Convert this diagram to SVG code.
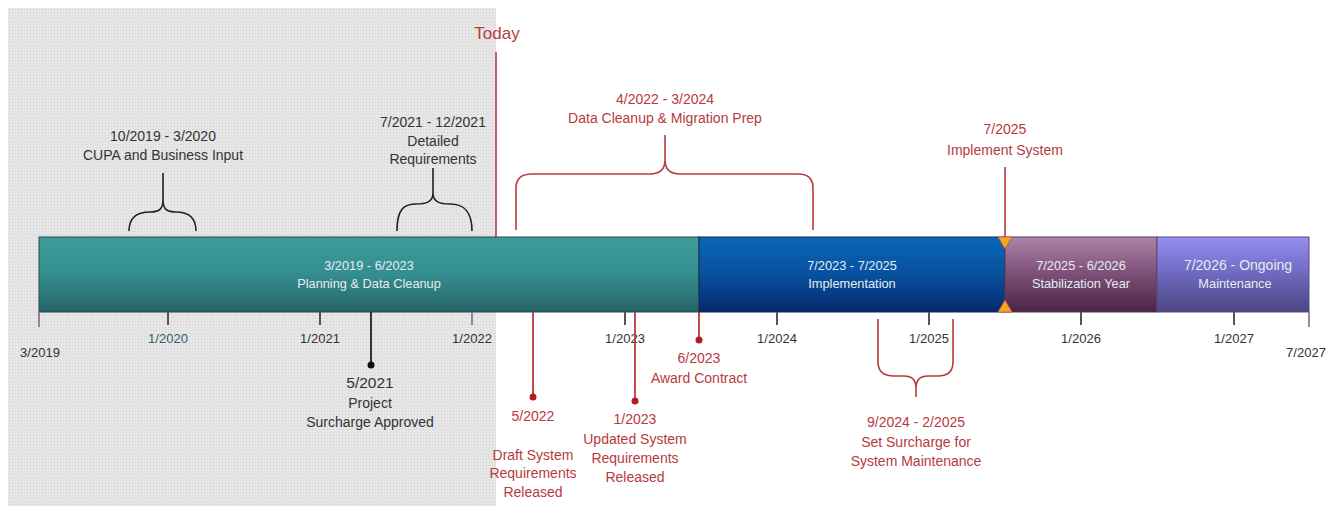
<svg xmlns="http://www.w3.org/2000/svg" width="1341" height="506" viewBox="0 0 1341 506">
  <defs>
    <pattern id="dots" width="3" height="3" patternUnits="userSpaceOnUse">
      <rect width="3" height="3" fill="#e6e6e6"/>
      <rect width="1" height="1" fill="#d2d2d2"/>
    </pattern>
    <linearGradient id="gTeal" x1="0" y1="0" x2="0" y2="1">
      <stop offset="0" stop-color="#3b9b9c"/>
      <stop offset="0.5" stop-color="#348e8f"/>
      <stop offset="1" stop-color="#256466"/>
    </linearGradient>
    <linearGradient id="gBlue" x1="0" y1="0" x2="0" y2="1">
      <stop offset="0" stop-color="#0a66b6"/>
      <stop offset="0.5" stop-color="#07519f"/>
      <stop offset="1" stop-color="#032a6c"/>
    </linearGradient>
    <linearGradient id="gMauve" x1="0" y1="0" x2="0" y2="1">
      <stop offset="0" stop-color="#ae84a8"/>
      <stop offset="0.5" stop-color="#7c4f76"/>
      <stop offset="1" stop-color="#4a2444"/>
    </linearGradient>
    <linearGradient id="gPurple" x1="0" y1="0" x2="0" y2="1">
      <stop offset="0" stop-color="#9590f2"/>
      <stop offset="0.5" stop-color="#6e68bf"/>
      <stop offset="1" stop-color="#4c467f"/>
    </linearGradient>
    <style>
      text { font-family: "Liberation Sans", Arial, sans-serif; font-size: 14px; text-anchor: middle; }
      .dark { fill: #333333; }
      .red { fill: #b83a3e; }
      .bar { fill: #e6ecf2; font-size: 12.8px; }
      .axis { fill: #333333; font-size: 13px; }
      .tick { stroke: #555555; stroke-width: 2; }
      .redline { stroke: #b83a3e; stroke-width: 1.6; fill: none; }
      .darkline { stroke: #222222; stroke-width: 1.6; fill: none; }
      .reddot { fill: #b01e24; }
    </style>
  </defs>

  <rect x="0" y="0" width="1341" height="506" fill="#ffffff"/>
  <!-- past period shading -->
  <rect id="past" x="8" y="8" width="488" height="498" fill="url(#dots)"/>

  <!-- today marker -->
  <g id="today">
    <line x1="496" y1="52" x2="496" y2="237" stroke="#b83a3e" stroke-width="1.6"/>
    <text x="497" y="39" class="red" style="font-size:17px">Today</text>
  </g>

  <!-- phase bar -->
  <g id="phase-planning">
    <rect x="39" y="237" width="660" height="75" fill="url(#gTeal)" stroke="#2a4a4a" stroke-width="1"/>
    <text x="369" y="270" class="bar">3/2019 - 6/2023</text>
    <text x="369" y="288" class="bar">Planning &amp; Data Cleanup</text>
  </g>
  <g id="phase-implementation">
    <rect x="699" y="237" width="306" height="75" fill="url(#gBlue)" stroke="#1a2a4a" stroke-width="1"/>
    <text x="852" y="270" class="bar">7/2023 - 7/2025</text>
    <text x="852" y="288" class="bar">Implementation</text>
  </g>
  <g id="phase-stabilization">
    <rect x="1005" y="237" width="152" height="75" fill="url(#gMauve)" stroke="#5a3a55" stroke-width="1"/>
    <text x="1081" y="270" class="bar">7/2025 - 6/2026</text>
    <text x="1081" y="288" class="bar">Stabilization Year</text>
  </g>
  <g id="phase-maintenance">
    <rect x="1157" y="237" width="152" height="75" fill="url(#gPurple)" stroke="#5a4a7a" stroke-width="1"/>
    <text x="1238" y="270" class="bar" style="font-size:14px">7/2026 - Ongoing</text>
    <text x="1235" y="288" class="bar">Maintenance</text>
  </g>

  <!-- axis ticks and labels -->
  <g id="axis">
    <line x1="39" y1="312" x2="39" y2="327" stroke="#8a5a84" stroke-width="1.5"/>
    <line x1="168" y1="312" x2="168" y2="325" class="tick"/>
    <line x1="320" y1="312" x2="320" y2="325" class="tick"/>
    <line x1="472" y1="312" x2="472" y2="325" stroke="#8a5a84" stroke-width="1.5"/>
    <line x1="625" y1="312" x2="625" y2="325" class="tick"/>
    <line x1="777" y1="312" x2="777" y2="325" class="tick"/>
    <line x1="929" y1="312" x2="929" y2="325" class="tick"/>
    <line x1="1081" y1="312" x2="1081" y2="325" class="tick"/>
    <line x1="1234" y1="312" x2="1234" y2="325" class="tick"/>
    <line x1="1309" y1="312" x2="1309" y2="327" stroke="#8a5a84" stroke-width="1.5"/>
    <text x="40" y="357" class="axis">3/2019</text>
    <text x="168" y="343" class="axis" style="fill:#2f5f6a">1/2020</text>
    <text x="320" y="343" class="axis">1/2021</text>
    <text x="472" y="343" class="axis">1/2022</text>
    <text x="625" y="343" class="axis">1/2023</text>
    <text x="777" y="343" class="axis">1/2024</text>
    <text x="929" y="343" class="axis">1/2025</text>
    <text x="1081" y="343" class="axis">1/2026</text>
    <text x="1234" y="343" class="axis">1/2027</text>
    <text x="1306" y="357" class="axis">7/2027</text>
  </g>

  <!-- connectors: braces and milestone stems -->
  <g id="connectors">
    <path class="darkline" d="M129 231 C129 218 137 212 150 212 C158 212 163 210 163 200 L163 173 M163 200 C163 210 168 212 176 212 C189 212 196 218 196 231"/>
    <path class="darkline" d="M397 231 C397 209 404 204 416 204 C426 204 433 202 433 193 L433 168 M433 193 C433 202 440 204 450 204 C462 204 472 209 472 231"/>
    <path class="redline" d="M516 230 L516 188 C516 178 522 174 532 174 L650 174 C660 174 665 170 665 160 L665 135 M665 160 C665 170 670 174 680 174 L798 174 C808 174 813 178 813 188 L813 230"/>
    <path class="redline" d="M878 319 L878 362 C878 372 884 376 894 376 L904 376 C912 376 916 380 916 388 L916 397 M916 388 C916 380 920 376 928 376 L938 376 C948 376 953 372 953 362 L953 319"/>
    <line x1="1005" y1="167" x2="1005" y2="237" stroke="#b83a3e" stroke-width="1.6"/>
    <line x1="371" y1="312" x2="371" y2="365" stroke="#222222" stroke-width="1.8"/>
    <line x1="533" y1="312" x2="533" y2="397" stroke="#b83a3e" stroke-width="1.8"/>
    <line x1="635" y1="312" x2="635" y2="401" stroke="#b83a3e" stroke-width="1.8"/>
    <line x1="699" y1="312" x2="699" y2="340" stroke="#b83a3e" stroke-width="1.8"/>
  </g>

  <g id="cupa-input">
    <text x="163" y="141" class="dark">10/2019 - 3/2020</text>
    <text x="163" y="160" class="dark">CUPA and Business Input</text>
  </g>
  <g id="detailed-req">
    <text x="433" y="127" class="dark">7/2021 - 12/2021</text>
    <text x="433" y="146" class="dark">Detailed</text>
    <text x="433" y="164" class="dark">Requirements</text>
  </g>
  <g id="data-cleanup">
    <text x="665" y="104" class="red">4/2022 - 3/2024</text>
    <text x="665" y="123" class="red">Data Cleanup &amp; Migration Prep</text>
  </g>
  <g id="implement-system">
    <text x="1005" y="134" class="red">7/2025</text>
    <text x="1005" y="155" class="red">Implement System</text>
    <polygon points="998,237 1012,237 1005,249" fill="#f5a623" stroke="#c0504d" stroke-width="0.8"/>
    <polygon points="998,312 1012,312 1005,300" fill="#f5a623" stroke="#c0504d" stroke-width="0.8"/>
  </g>
  <g id="surcharge-approved">
    <circle cx="371" cy="365" r="3.5" fill="#111111"/>
    <text x="370" y="388" class="dark" style="font-size:15.5px">5/2021</text>
    <text x="370" y="408" class="dark">Project</text>
    <text x="370" y="427" class="dark">Surcharge Approved</text>
  </g>
  <g id="draft-req">
    <circle cx="533" cy="397" r="3.5" class="reddot"/>
    <text x="533" y="421" class="red">5/2022</text>
    <text x="533" y="460" class="red">Draft System</text>
    <text x="533" y="478" class="red">Requirements</text>
    <text x="533" y="497" class="red">Released</text>
  </g>
  <g id="updated-req">
    <circle cx="635" cy="401" r="3.5" class="reddot"/>
    <text x="635" y="424" class="red">1/2023</text>
    <text x="635" y="444" class="red">Updated System</text>
    <text x="635" y="463" class="red">Requirements</text>
    <text x="635" y="482" class="red">Released</text>
  </g>
  <g id="award-contract">
    <circle cx="699" cy="340" r="3.5" class="reddot"/>
    <text x="699" y="363" class="red">6/2023</text>
    <text x="699" y="383" class="red">Award Contract</text>
  </g>
  <g id="set-surcharge">
    <text x="916" y="427" class="red">9/2024 - 2/2025</text>
    <text x="916" y="447" class="red">Set Surcharge for</text>
    <text x="916" y="466" class="red">System Maintenance</text>
  </g>
</svg>
